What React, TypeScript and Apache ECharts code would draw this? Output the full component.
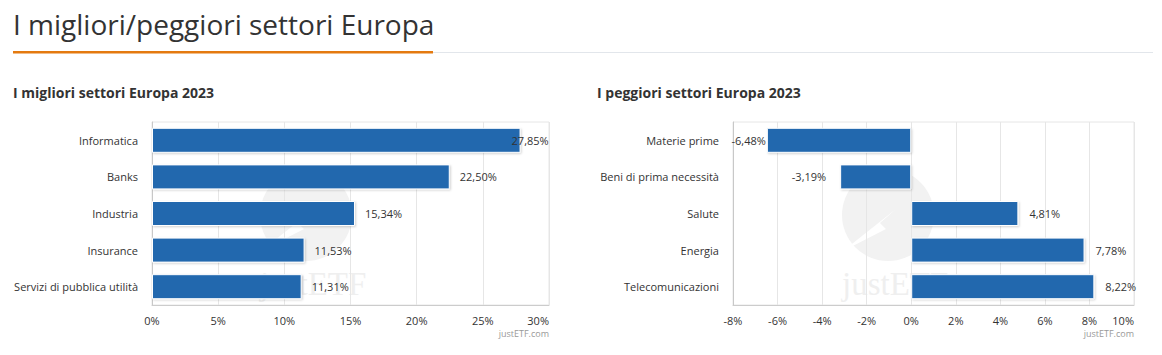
import React, { useEffect, useRef } from "react";
import * as echarts from "echarts";

const bestCategories = ["Informatica", "Banks", "Industria", "Insurance", "Servizi di pubblica utilità"];
const bestValues = [27.85, 22.5, 15.34, 11.53, 11.31];
const worstCategories = ["Materie prime", "Beni di prima necessità", "Salute", "Energia", "Telecomunicazioni"];
const worstValues = [-6.48, -3.19, 4.81, 7.78, 8.22];

const mainTitle = "I migliori/peggiori settori Europa";
const bestTitle = "I migliori settori Europa 2023";
const worstTitle = "I peggiori settori Europa 2023";
const credit = "justETF.com";

const FONT = "'Open Sans', 'Noto Sans', sans-serif";
const BAR = "#2167ae";
const fmt = (v: number) => v.toFixed(2).replace(".", ",") + "%";

const WM_SVG =
  "<svg xmlns='http://www.w3.org/2000/svg' width='130' height='140'>" +
  "<circle cx='60' cy='48' r='46' fill='#f2f2f2'/>" +
  "<polygon points='15,84 68,42 52,56 58,62' fill='#ffffff'/>" +
  "<text x='14' y='128' font-family='Liberation Serif, serif' font-size='33' fill='#efefef'>justETF</text>" +
  "</svg>";
const WM_URL = "data:image/svg+xml;charset=utf-8," + encodeURIComponent(WM_SVG);

function watermark(cx: number, cy: number) {
  return {
    type: "image", z: -10, silent: true, x: cx - 60, y: cy - 48,
    style: { image: WM_URL, width: 130, height: 140 },
  };
}

export default function App() {
  const ref = useRef<HTMLDivElement>(null);
  useEffect(() => {
    document.body.style.margin = "0";
    const chart = echarts.init(ref.current!, null, { renderer: "svg" });
    const yAxisCommon = {
      type: "category",
      inverse: true,
      axisLine: { show: true, onZero: false, lineStyle: { color: "#c8c8c8" } },
      axisTick: { show: false },
      splitLine: { show: false },
      axisLabel: { color: "#333", fontSize: 11, fontFamily: FONT, margin: 14 },
    };
    const xAxisCommon = {
      type: "value",
      axisLine: { show: true, onZero: false, lineStyle: { color: "#ccc" } },
      axisTick: { show: false },
      splitLine: { show: true, lineStyle: { color: "#e6e6e6" } },
      axisLabel: {
        color: "#333", fontSize: 11, fontFamily: FONT, margin: 10,
        formatter: "{value}%", alignMaxLabel: "right",
      },
    };
    const barStyle = {
      color: BAR, borderColor: "#fff", borderWidth: 1,
      shadowColor: "rgba(0,0,0,0.18)", shadowBlur: 2, shadowOffsetX: 1, shadowOffsetY: 1,
    };
    const labelCommon = { show: true, color: "#333", fontSize: 11, fontFamily: FONT, formatter: (p: any) => fmt(p.value) };

    chart.setOption({
      animation: false,
      grid: [
        { left: 152, right: 613, top: 122, bottom: 50, show: true, borderColor: "#e6e6e6", borderWidth: 1, backgroundColor: "transparent" },
        { left: 733, right: 28, top: 122, bottom: 50, show: true, borderColor: "#e6e6e6", borderWidth: 1, backgroundColor: "transparent" },
      ],
      xAxis: [
        { ...xAxisCommon, gridIndex: 0, min: 0, max: 30, interval: 5 },
        { ...xAxisCommon, gridIndex: 1, min: -8, max: 10, interval: 2 },
      ],
      yAxis: [
        { ...yAxisCommon, gridIndex: 0, data: bestCategories },
        { ...yAxisCommon, gridIndex: 1, data: worstCategories },
      ],
      series: [
        {
          type: "bar", xAxisIndex: 0, yAxisIndex: 0, barWidth: 25,
          itemStyle: barStyle,
          label: { ...labelCommon, position: "right", distance: 10 },
          data: bestValues.map((v, i) =>
            i === 0 ? { value: v, label: { offset: [-19, 0] } } : v
          ),
        },
        {
          type: "bar", xAxisIndex: 1, yAxisIndex: 1, barWidth: 25,
          itemStyle: barStyle,
          label: { ...labelCommon, position: "right", distance: 11 },
          data: worstValues.map((v, i) =>
            v < 0 ? { value: v, label: { position: "left", distance: i === 0 ? 1 : 14 } } : v
          ),
        },
      ],
      graphic: [
        watermark(306, 215),
        watermark(888, 215),
        {
          type: "text", x: 13, y: 10,
          style: { text: mainTitle, fill: "#333", font: `normal 28px ${FONT}` },
        },
        { type: "rect", shape: { x: 430, y: 52, width: 723, height: 1 }, style: { fill: "#e2e6eb" } },
        { type: "rect", shape: { x: 13, y: 51, width: 420, height: 2.5 }, style: { fill: "#e47a10" } },
        {
          type: "text", x: 13, y: 85,
          style: { text: bestTitle, fill: "#333", font: `bold 14px ${FONT}` },
        },
        {
          type: "text", x: 597, y: 85,
          style: { text: worstTitle, fill: "#333", font: `bold 14px ${FONT}` },
        },
        {
          type: "text", x: 549, y: 329,
          style: { text: credit, fill: "#999", font: `normal 9px ${FONT}`, align: "right" },
        },
        {
          type: "text", x: 1134, y: 329,
          style: { text: credit, fill: "#999", font: `normal 9px ${FONT}`, align: "right" },
        },
      ],
    });
    return () => chart.dispose();
  }, []);
  return <div ref={ref} style={{ width: 1162, height: 355 }} />;
}
